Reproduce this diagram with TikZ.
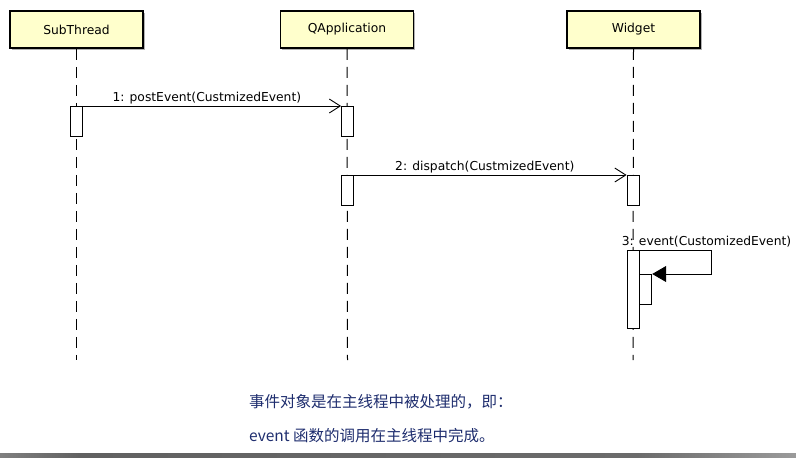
\documentclass[tikz,border=0pt]{standalone}
\usepackage{fontspec}
\setmainfont{DejaVu Sans}
\newfontfamily\cjk{Noto Sans CJK SC}
\usetikzlibrary{arrows.meta,shadows}
\definecolor{boxyellow}{RGB}{255,255,204}
\definecolor{navy}{RGB}{30,45,110}
\pgfdeclarehorizontalshading{barshade}{100bp}{color(0bp)=(white); color(4bp)=(white); color(30bp)=(black!62); color(65bp)=(black!58); color(96bp)=(white); color(100bp)=(white)}
\begin{document}
\begin{tikzpicture}[x=1pt,y=-1pt,
  actor/.style={draw, line width=1.7pt, fill=boxyellow, minimum width=133pt, minimum height=37pt, inner sep=0pt,
    font=\fontsize{12.3}{14}\selectfont, drop shadow={shadow xshift=1.5pt, shadow yshift=-1.5pt, fill=black!30, opacity=1}},
  lifeline/.style={line width=1pt, dash pattern=on 11pt off 7pt},
  act/.style={draw, fill=white, line width=0.8pt, minimum width=12pt, inner sep=0pt, anchor=north},
  msg/.style={line width=0.9pt, -{Straight Barb[length=11pt,width=14pt,line width=0.9pt]}},
  selfmsg/.style={line width=0.9pt, -{Triangle[length=14pt,width=16pt]}},
  lbl/.style={font=\fontsize{12.3}{14}\selectfont, inner sep=1pt},
  note/.style={font=\cjk\fontsize{15.5}{18}\selectfont, text=navy, anchor=west, inner sep=0pt}]
\useasboundingbox (0,0) rectangle (796,458);

% actors
\node[actor] (st) at (76.5,29.5) {SubThread};
\node[actor] (qa) at (347,29.5) {\raisebox{2pt}{QApplication}};
\node[actor] (wg) at (633.5,29.5) {Widget};

% lifeline ends
\coordinate (stend) at (76.5,360);
\coordinate (qaend) at (347.5,360);
\coordinate (wgend) at (633,360);
\draw[lifeline] (st.south) -- (stend);
\draw[lifeline] (qa.south) -- (qaend);
\draw[lifeline] (wg.south) -- (wgend);

% activations
\node[act, minimum height=30pt] (a1) at (76.5,106) {};
\node[act, minimum height=30pt] (a2) at (347.5,106) {};
\node[act, minimum height=30pt] (a3) at (347.5,175) {};
\node[act, minimum height=30pt] (a4) at (633,175) {};
\node[act, minimum height=78pt] (a5) at (633,250) {};
\node[act, minimum height=30pt, anchor=north west] (a6) at (a5.east |- 0,274) {};

% messages
\draw[msg] (a1.north east) -- (a2.north west)
  node[lbl, pos=0.48, above] {1: postEvent(CustmizedEvent)};
\draw[msg] (a3.north east) -- (a4.north west)
  node[lbl, pos=0.48, above] {2: dispatch(CustmizedEvent)};
\coordinate (turn) at (711,250);
\draw[selfmsg] (a5.north east) -- (turn) |- (a6.north east);
\node[lbl] (l3) at (706.5,241.5) {3: event(CustomizedEvent)};

% note
\node[note] (n1) at (249,402) {事件对象是在主线程中被处理的，即：};
\node[note] (n2) at (249,436) {event 函数的调用在主线程中完成。};

% bottom bar
\shade[shading=barshade] (0,453.5) rectangle (796,458);
\end{tikzpicture}
\end{document}
